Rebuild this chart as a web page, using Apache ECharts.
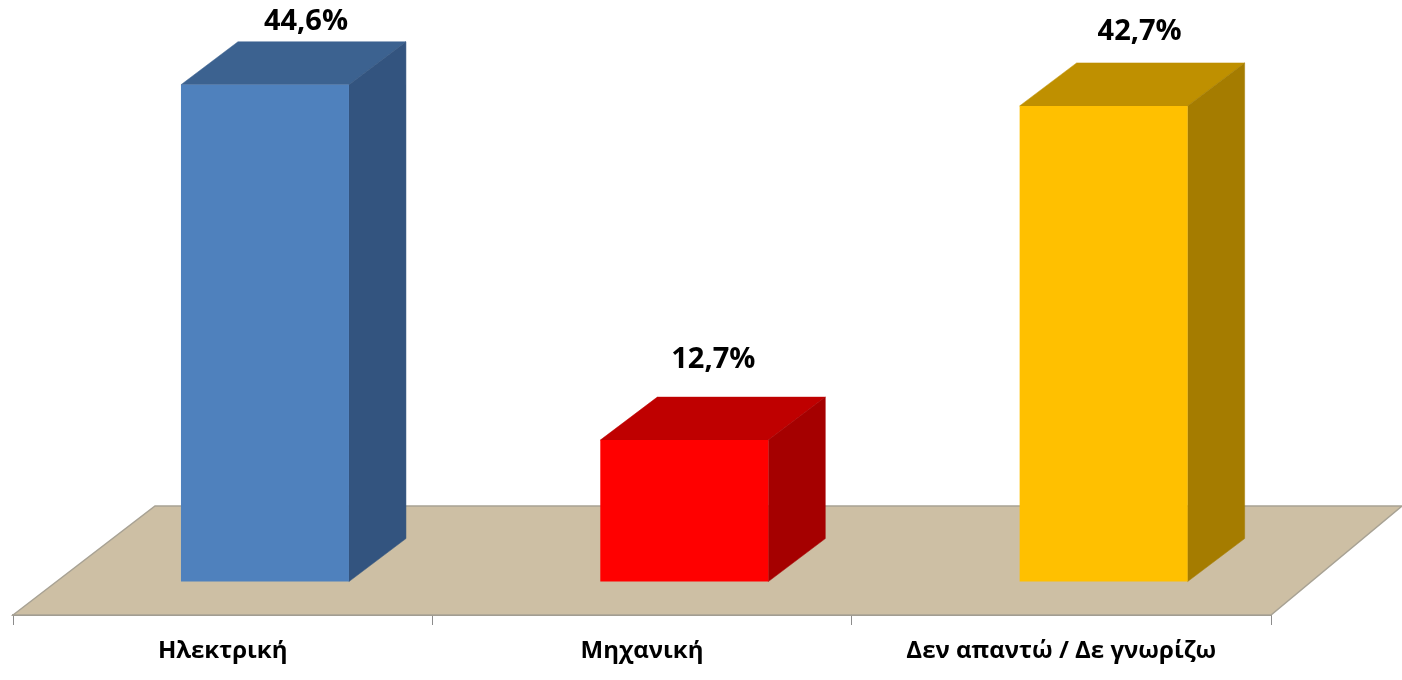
<!DOCTYPE html>
<html><head><meta charset="utf-8">
<style>html,body{margin:0;padding:0;background:#fff}#c{width:1402px;height:680px}</style>
<script src="https://cdn.jsdelivr.net/npm/echarts@6/dist/echarts.min.js"></script>
</head><body><div id="c"></div>
<script>
const categories = ['Ηλεκτρική', 'Μηχανική', 'Δεν απαντώ / Δε γνωρίζω'];
const values = [44.6, 12.7, 42.7];
const frontColors = ['#4f81bd', '#ff0000', '#ffc000'];
const topColors = ['#3c6290', '#bf0000', '#bf9000'];
const sideColors = ['#33547f', '#a50000', '#a57c00'];
const labelShift = [[41, -63], [29, -80], [36, -74]];

const DX = 57, DY = 43, BAR_W = 168, BAR_SHIFT = 42.3;
const chart = echarts.init(document.getElementById('c'), null, {renderer: 'canvas'});

function poly(pts, fill, stroke) {
  return {type: 'polygon', shape: {points: pts},
    style: {fill: fill, stroke: stroke || fill, lineWidth: stroke ? 1.5 : 0.5}};
}
function renderBar(params, api) {
  const i = api.value(0), v = api.value(1);
  const top = api.coord([i, v]), base = api.coord([i, 0]);
  const l = top[0] + BAR_SHIFT - BAR_W / 2, r = l + BAR_W, t = top[1], b = base[1];
  const kids = [
    poly([[l, t], [r, t], [r + DX, t - DY], [l + DX, t - DY]], topColors[i]),
    poly([[r, t], [r + DX, t - DY], [r + DX, b - DY], [r, b]], sideColors[i]),
    {type: 'rect', shape: {x: l, y: t, width: BAR_W, height: b - t}, style: {fill: frontColors[i]}},
    {type: 'text', style: {
      text: String(v).replace('.', ',') + '%',
      x: l + BAR_W / 2 + labelShift[i][0], y: t + labelShift[i][1],
      align: 'center', verticalAlign: 'middle',
      font: 'bold 29px "Open Sans", "Noto Sans", sans-serif', fill: '#000'}}
  ];
  return {type: 'group', children: kids};
}
function renderFloor(params) {
  const g = params.coordSys, x0 = g.x, x1 = g.x + g.width, b = g.y + g.height;
  return poly([[x0, b], [x0 + 142, b - 109], [x1 + 131, b - 109], [x1, b]], '#cdbfa4', '#a8a294');
}

chart.setOption({
  animation: false,
  backgroundColor: '#fff',
  grid: {left: 13, width: 1258, top: 24.6, height: 590.4},
  xAxis: {
    type: 'category', data: categories, boundaryGap: true,
    axisLine: {onZero: false, lineStyle: {color: '#8c8c8c', width: 2}},
    axisTick: {show: true, alignWithLabel: false, length: 10, lineStyle: {color: '#8c8c8c', width: 1}},
    axisLabel: {interval: 0, margin: 24, color: '#000', fontSize: 24, fontWeight: 'bold',
      fontFamily: '"Open Sans", "Noto Sans", sans-serif'}
  },
  yAxis: {type: 'value', min: -3, max: 50, show: false, splitLine: {show: false}},
  series: [
    {type: 'custom', clip: false, z: 1, silent: true, renderItem: renderFloor, data: [[0, 0]]},
    {type: 'custom', clip: false, z: 3, renderItem: renderBar,
      encode: {x: 0, y: 1}, data: values.map((v, i) => [i, v])}
  ]
});
</script></body></html>
